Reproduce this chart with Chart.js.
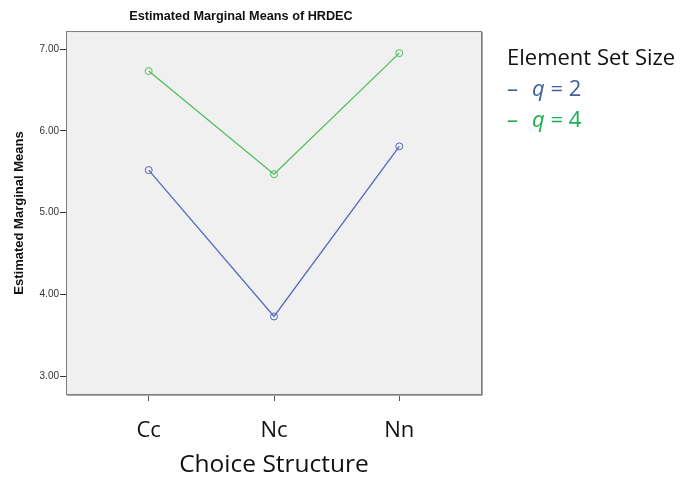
<!DOCTYPE html>
<html>
<head>
<meta charset="utf-8">
<script src="https://cdn.jsdelivr.net/npm/chart.js@4.4.1/dist/chart.umd.min.js"></script>
<style>
    body { margin: 0; background: #fff; }
    #wrap { position: relative; width: 683px; height: 481px; }
    #legend { position: absolute; left: 507px; top: 41px; font-family: 'Open Sans', sans-serif; font-size: 22px; line-height: 31px; color: #111; }
    #legend .item { white-space: nowrap; }
    #legend .dash { display: inline-block; width: 25px; }
    #legend i { font-style: italic; }
</style>
</head>
<body>
<div id="wrap">
    <canvas id="emmChart" width="683" height="481"></canvas>
    <div id="legend"></div>
</div>
<script>
// Data
var categories = ['Cc', 'Nc', 'Nn'];
var seriesNames = ['2', '4'];
var q2Values = [5.52, 3.73, 5.81];
var q4Values = [6.73, 5.47, 6.95];
var yTicks = [3, 4, 5, 6, 7];
var lineColors = ['#5468bd', '#4cbf58'];
var legendColors = ['#40619b', '#1bb04f'];

document.addEventListener('DOMContentLoaded', function () {
    function toPoints(values) {
        return values.map(function (v, i) { return { x: i, y: v }; });
    }

    // grey plot background + frame around the chart area
    var plotBox = {
        id: 'plotBox',
        beforeDatasetsDraw: function (chart) {
            var a = chart.chartArea;
            var ctx = chart.ctx;
            ctx.save();
            ctx.fillStyle = '#f0f0f0';
            ctx.fillRect(a.left, a.top, a.right - a.left, a.bottom - a.top);
            ctx.strokeStyle = '#7c7c7c';
            ctx.lineWidth = 1;
            ctx.strokeRect(a.left + 0.5, a.top + 0.5, a.right - a.left - 1, a.bottom - a.top - 1);
            ctx.strokeStyle = '#a8a8a8';
            ctx.beginPath();
            ctx.moveTo(a.right + 0.5, a.top + 1);
            ctx.lineTo(a.right + 0.5, a.bottom + 0.5);
            ctx.lineTo(a.left + 1, a.bottom + 0.5);
            ctx.stroke();
            ctx.restore();
        }
    };

    var ctx = document.getElementById('emmChart').getContext('2d');
    var emmChart = new Chart(ctx, {
        type: 'line',
        data: {
            datasets: [{
                label: 'q = ' + seriesNames[0],
                data: toPoints(q2Values),
                borderColor: lineColors[0],
                borderWidth: 1.3,
                pointRadius: 3.5,
                pointBorderWidth: 1,
                pointBackgroundColor: 'rgba(0,0,0,0)',
                pointBorderColor: lineColors[0],
                fill: false
            }, {
                label: 'q = ' + seriesNames[1],
                data: toPoints(q4Values),
                borderColor: lineColors[1],
                borderWidth: 1.3,
                pointRadius: 3.5,
                pointBorderWidth: 1,
                pointBackgroundColor: 'rgba(0,0,0,0)',
                pointBorderColor: lineColors[1],
                fill: false
            }]
        },
        options: {
            responsive: false,
            animation: false,
            layout: { padding: { left: 0, right: 201, top: 0, bottom: 0 } },
            plugins: {
                legend: { display: false },
                tooltip: { enabled: false },
                title: {
                    display: true,
                    text: 'Estimated Marginal Means of HRDEC',
                    color: '#111',
                    font: { family: "'Liberation Sans', Arial, sans-serif", size: 12.7, weight: 'bold' },
                    padding: { top: 9, bottom: 6.8 }
                }
            },
            scales: {
                x: {
                    type: 'linear',
                    min: -0.66,
                    max: 2.66,
                    afterBuildTicks: function (scale) {
                        scale.ticks = categories.map(function (c, i) { return { value: i }; });
                    },
                    afterFit: function (scale) { scale.height = 86; },
                    border: { display: false },
                    grid: { display: true, drawOnChartArea: false, tickLength: 6, color: '#555', tickColor: '#555' },
                    ticks: {
                        padding: 17,
                        color: '#111',
                        font: { family: "'Open Sans', sans-serif", size: 22 },
                        callback: function (value) { return categories[value]; }
                    },
                    title: {
                        display: true,
                        text: 'Choice Structure',
                        color: '#111',
                        font: { family: "'Open Sans', sans-serif", size: 24.5 },
                        padding: { top: 0, bottom: 1 }
                    }
                },
                y: {
                    type: 'linear',
                    min: 2.77,
                    max: 7.22,
                    afterBuildTicks: function (scale) {
                        scale.ticks = yTicks.map(function (v) { return { value: v }; });
                    },
                    afterFit: function (scale) { scale.width = 66; },
                    border: { display: false },
                    grid: { display: true, drawOnChartArea: false, tickLength: 6, color: '#333', tickColor: '#333' },
                    ticks: {
                        padding: 1,
                        color: '#333',
                        font: { family: "'Liberation Sans', Arial, sans-serif", size: 10 },
                        callback: function (value) { return value.toFixed(2); }
                    },
                    title: {
                        display: true,
                        text: 'Estimated Marginal Means',
                        color: '#111',
                        font: { family: "'Liberation Sans', Arial, sans-serif", size: 13, weight: 'bold' },
                        padding: { top: 12, bottom: 0 }
                    }
                }
            }
        },
        plugins: [plotBox]
    });

    // legend as real text, built from the series arrays
    var legend = document.getElementById('legend');
    var head = document.createElement('div');
    head.textContent = 'Element Set Size';
    legend.appendChild(head);
    seriesNames.forEach(function (name, i) {
        var row = document.createElement('div');
        row.className = 'item';
        row.style.color = legendColors[i];
        row.innerHTML = '<span class="dash">\u2013</span><i>q</i> = ' + name;
        legend.appendChild(row);
    });
});
</script>
</body>
</html>
